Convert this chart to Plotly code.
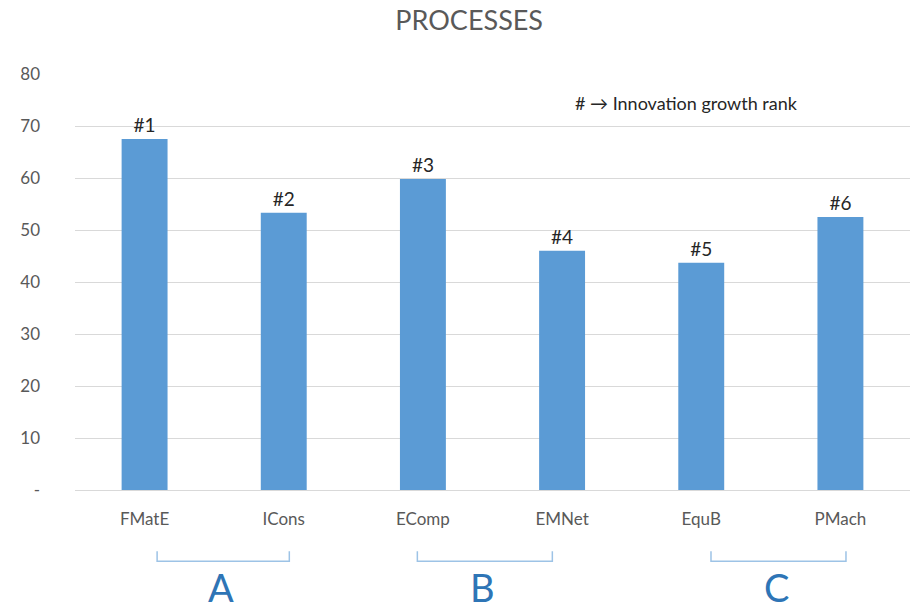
import plotly.graph_objects as go

categories = ["FMatE", "ICons", "EComp", "EMNet", "EquB", "PMach"]
values = [67.5, 53.3, 59.8, 46.0, 43.7, 52.5]
rank_labels = ["#1", "#2", "#3", "#4", "#5", "#6"]
tick_vals = [0, 10, 20, 30, 40, 50, 60, 70, 80]
tick_text = ["-", "10", "20", "30", "40", "50", "60", "70", "80"]
groups = ["A", "B", "C"]
group_spans = [(0.09, 1.04), (1.96, 2.93), (4.07, 5.04)]
group_label_pos = [0.55, 2.43, 4.54]

FONT = "Lato, 'Open Sans', sans-serif"
GREY = "#595959"

fig = go.Figure()
fig.add_trace(go.Bar(
    x=categories, y=values, text=rank_labels, textposition="outside",
    textfont=dict(family=FONT, size=19, color="#262626"),
    marker=dict(color="#5B9BD5", line=dict(width=0)),
    width=0.33, cliponaxis=False,
))

shapes = []
annotations = []
for (x0, x1), g, gx in zip(group_spans, groups, group_label_pos):
    shapes.append(dict(
        type="path", xref="x", yref="paper",
        path=f"M {x0},-0.147 L {x0},-0.171 L {x1},-0.171 L {x1},-0.147",
        line=dict(color="#9DC3E6", width=1.5),
    ))
    annotations.append(dict(
        x=gx, y=-0.232, xref="x", yref="paper", text=g, showarrow=False,
        font=dict(family=FONT, size=38, color="#2E75B6"), yanchor="middle",
    ))

annotations.append(dict(
    x=0.597, y=0.93, xref="paper", yref="paper", text="# \u2192 Innovation growth rank",
    showarrow=False, xanchor="left", yanchor="middle",
    font=dict(family=FONT, size=18, color="#262626"),
))

fig.update_layout(
    width=911, height=611,
    margin=dict(l=75, r=1, t=74, b=121),
    paper_bgcolor="white", plot_bgcolor="white",
    title=dict(text="PROCESSES", x=0.515, xanchor="center", y=0.967, yanchor="middle",
               font=dict(family=FONT, size=27, color=GREY)),
    showlegend=False,
    shapes=shapes, annotations=annotations,
    xaxis=dict(showgrid=False, showline=True, linecolor="#d9d9d9", linewidth=1,
               ticks="", ticklabelstandoff=14,
               tickfont=dict(family=FONT, size=17, color=GREY)),
    yaxis=dict(range=[0, 80], tickvals=tick_vals, ticktext=tick_text,
               showgrid=True, gridcolor="#d9d9d9", gridwidth=1, zeroline=False,
               showline=False, ticks="", ticklabelstandoff=34,
               tickfont=dict(family=FONT, size=17, color=GREY)),
    bargap=0.67,
)

fig.write_html("out.html")
